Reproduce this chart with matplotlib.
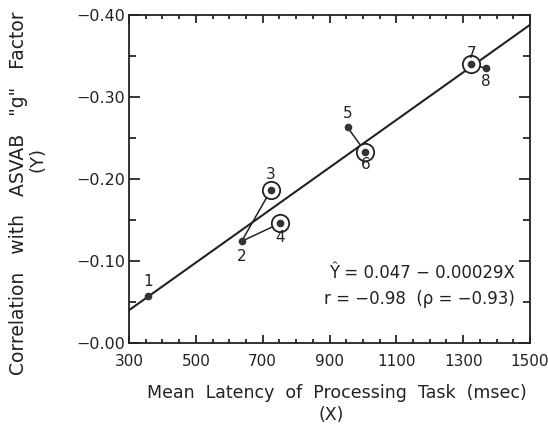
import matplotlib
matplotlib.use("Agg")
import matplotlib.pyplot as plt
from matplotlib.ticker import MultipleLocator

plt.rcParams['font.family'] = ['DejaVu Sans']

# Data
task_ids = ["1", "2", "3", "4", "5", "6", "7", "8"]
latency = [358, 637, 724, 752, 954, 1007, 1323, 1368]
corr = [-0.057, -0.124, -0.186, -0.146, -0.263, -0.233, -0.340, -0.335]
circled = [False, False, True, True, False, True, True, False]
pairs = [(1, 2), (1, 3), (4, 5), (6, 7)]
reg_x = [300, 1500]
reg_y = [-0.040, -0.388]
label_offsets = [(0, 15), (0, -15), (0, 16), (0, -14), (0, 14), (0, -13), (1, 11), (0, -13)]

x_ticks = [300, 500, 700, 900, 1100, 1300, 1500]
x_tick_labels = ["300", "500", "700", "900", "1100", "1300", "1500"]
y_ticks = [0.0, -0.1, -0.2, -0.3, -0.4]
y_tick_labels = ["\u22120.00", "\u22120.10", "\u22120.20", "\u22120.30", "\u22120.40"]

fig = plt.figure(figsize=(5.48, 4.30), dpi=100)
ax = fig.add_axes([129/548, 1-343/430, (530-129)/548, (343-15)/430])

ax.set_xlim(300, 1500)
ax.set_ylim(0.0, -0.40)

# regression line
ax.plot(reg_x, reg_y, color='#222222', lw=1.5, zorder=2)

# connecting lines
for a, b in pairs:
    ax.plot([latency[a], latency[b]], [corr[a], corr[b]], color='#222222', lw=1.1, zorder=2)

# points
for i in range(len(latency)):
    if circled[i]:
        ax.plot(latency[i], corr[i], marker='o', ms=12.5, mfc='white', mec='#222222', mew=1.3, zorder=3)
    ax.plot(latency[i], corr[i], marker='o', ms=4.5, mfc='#333333', mec='#333333', zorder=4)
    dx, dy = label_offsets[i]
    ax.annotate(task_ids[i], (latency[i], corr[i]), xytext=(dx, dy), textcoords='offset pixels',
                ha='center', va='center', fontsize=11, color='#222222', zorder=5)

# equation text
ax.text(1455, -0.085, "\u0176 = 0.047 \u2212 0.00029X", ha='right', va='center', fontsize=12, color='#222222')
ax.text(1455, -0.054, "r = \u22120.98  (\u03c1 = \u22120.93)", ha='right', va='center', fontsize=12, color='#222222')

# ticks
ax.set_xticks(x_ticks)
ax.set_xticklabels(x_tick_labels, fontsize=11, color='#222222')
ax.xaxis.set_minor_locator(MultipleLocator(50))
ax.set_yticks(y_ticks)
ax.set_yticklabels(y_tick_labels, fontsize=11.5, color='#222222')
ax.yaxis.set_minor_locator(MultipleLocator(0.05))

ax.tick_params(axis='x', which='major', direction='in', length=6, width=1.1, top=True, bottom=True, pad=8)
ax.tick_params(axis='x', which='minor', direction='in', length=3, width=1.1, top=True, bottom=True)
ax.tick_params(axis='y', which='major', direction='in', length=8, width=1.1, left=True, right=True, pad=3)
ax.tick_params(axis='y', which='minor', direction='in', length=5, width=1.1, left=True, right=True)

for s in ax.spines.values():
    s.set_linewidth(1.3)
    s.set_color('#222222')

# axis labels
fig.text(337/548, 1-393/430, "Mean  Latency  of  Processing  Task  (msec)", ha='center', va='center', fontsize=12.5, color='#222222')
fig.text(331/548, 1-415/430, "(X)", ha='center', va='center', fontsize=12.5, color='#222222')
fig.text(19/548, 1-193/430, "Correlation   with   ASVAB   \"g\"   Factor", ha='center', va='center', rotation=90, fontsize=13.5, color='#222222')
fig.text(37/548, 1-160/430, "(Y)", ha='center', va='center', rotation=90, fontsize=13, color='#222222')

fig.savefig("out.png", dpi=100)
